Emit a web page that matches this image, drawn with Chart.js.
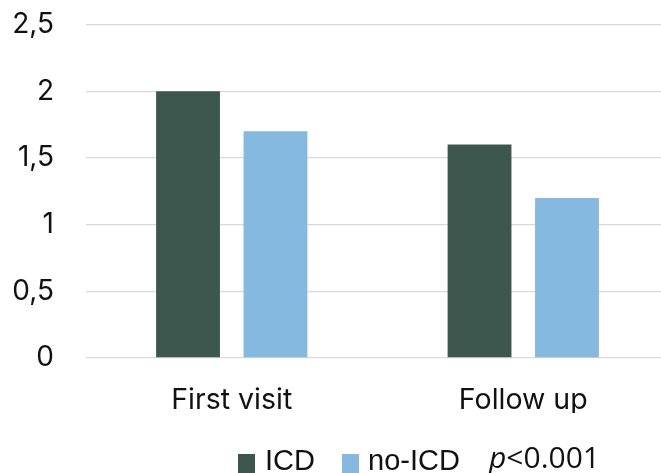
<!DOCTYPE html>
<html>
<head>
<meta charset="utf-8">
<script src="https://cdn.jsdelivr.net/npm/chart.js@4/dist/chart.umd.min.js"></script>
<style>
  html, body { margin: 0; padding: 0; background: #fff; overflow: hidden; }
  #wrap { position: relative; width: 669px; height: 473px; }
  #chart { display: block; }
  #legend {
    position: absolute; left: 0; top: 0; width: 669px; height: 473px;
    pointer-events: none;
    font-family: "Liberation Sans", Arial, sans-serif; font-size: 29px; color: #111;
  }
  .item { position: absolute; top: 444px; white-space: nowrap; line-height: 32px; }
  .pval { font-family: "Open Sans", sans-serif; font-size: 30px; top: 441px; }
  .swatch { position: absolute; width: 17px; height: 19px; }
</style>
</head>
<body>
<div id="wrap">
  <canvas id="chart" width="669" height="473"></canvas>
  <div id="legend"></div>
</div>
<script>
// Categories and series values
const categories = ['First visit', 'Follow up'];
const icdValues = [2.0, 1.6];
const noIcdValues = [1.7, 1.2];
const seriesNames = ['ICD', 'no-ICD'];
const seriesColors = ['#3D574F', '#85B9E0'];
const pValueText = '<0.001';

// y axis: 0 to 2.5 in steps of 0.5, comma as decimal separator
const yMin = 0, yMax = 2.5, yStep = 0.5;

const fontFamily = 'Inter, "Open Sans", sans-serif';

new Chart(document.getElementById('chart'), {
  type: 'bar',
  data: {
    labels: categories,
    datasets: [
      { label: seriesNames[0], data: icdValues, backgroundColor: seriesColors[0] },
      { label: seriesNames[1], data: noIcdValues, backgroundColor: seriesColors[1] }
    ]
  },
  options: {
    responsive: false,
    animation: false,
    devicePixelRatio: 1,
    layout: { padding: { top: 24.5, right: 0, bottom: 60, left: 0 } },
    datasets: { bar: { categoryPercentage: 0.6, barPercentage: 0.73 } },
    plugins: { legend: { display: false }, tooltip: { enabled: false } },
    scales: {
      x: {
        grid: { display: false, drawTicks: false },
        border: { display: false },
        ticks: { color: '#111', font: { family: fontFamily, size: 28.5 }, padding: 25 },
        afterFit: s => { s.height = 55; s.paddingLeft = 0; s.paddingRight = 0; }
      },
      y: {
        min: yMin, max: yMax,
        grid: { color: '#d9d9d9', lineWidth: 1.3, drawTicks: false },
        border: { display: false },
        ticks: {
          stepSize: yStep, color: '#111', font: { family: fontFamily, size: 28 }, padding: 32,
          callback: v => String(v).replace('.', ',')
        },
        afterFit: s => { s.width = 86; s.paddingTop = 0; s.paddingBottom = 0; }
      }
    }
  }
});

// Legend row with the significance note
const legend = document.getElementById('legend');
const legendItems = [
  { swatchX: 238, textX: 265, name: seriesNames[0], color: seriesColors[0] },
  { swatchX: 341.5, textX: 368, name: seriesNames[1], color: seriesColors[1] }
];
legendItems.forEach(it => {
  const sw = document.createElement('div');
  sw.className = 'swatch';
  sw.style.left = it.swatchX + 'px';
  sw.style.top = '454px';
  sw.style.background = it.color;
  legend.appendChild(sw);
  const tx = document.createElement('div');
  tx.className = 'item';
  tx.style.left = it.textX + 'px';
  tx.textContent = it.name;
  legend.appendChild(tx);
});
const pv = document.createElement('div');
pv.className = 'item pval';
pv.style.left = '489px';
pv.innerHTML = '<i>p</i>' + pValueText.replace('<', '&lt;');
legend.appendChild(pv);
</script>
</body>
</html>
